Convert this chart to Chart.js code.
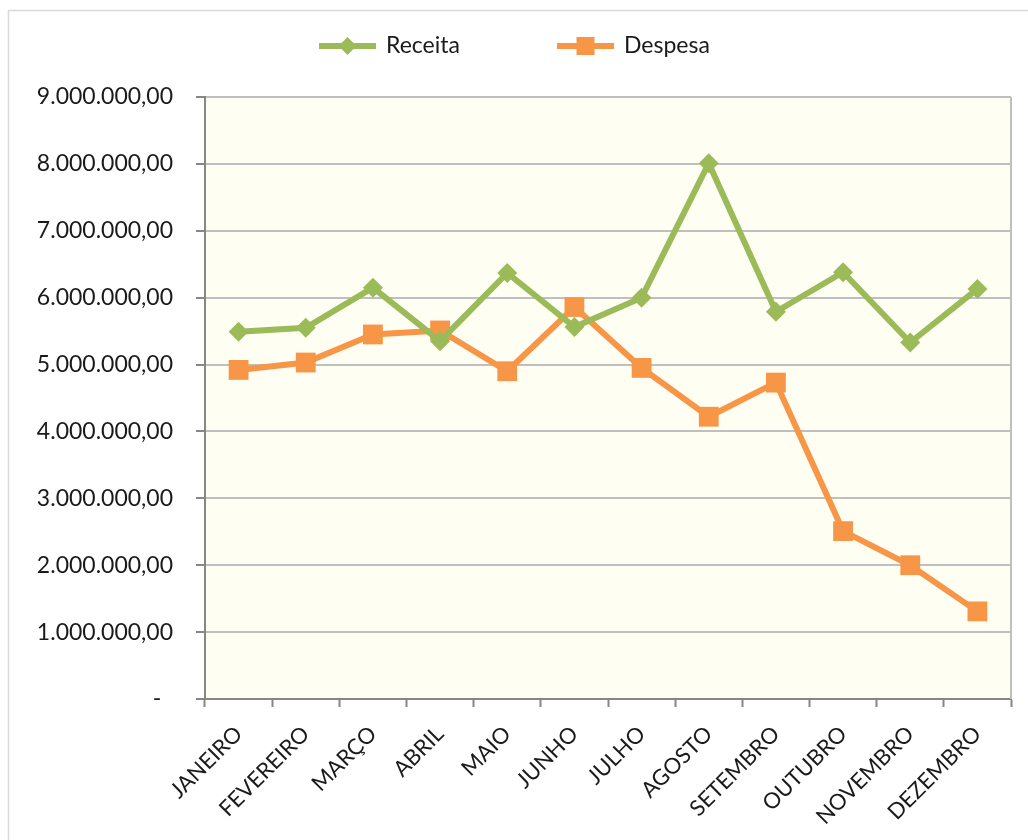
<!DOCTYPE html>
<html>
<head>
<meta charset="utf-8">
<script src="https://cdn.jsdelivr.net/npm/chart.js@4.4.1/dist/chart.umd.min.js"></script>
<style>
  html, body { margin: 0; padding: 0; background: #fff; }
  #wrap { width: 1028px; height: 840px; }
</style>
</head>
<body>
<div id="wrap"><canvas id="myChart" width="1028" height="840"></canvas></div>
<script>
const months = ["JANEIRO", "FEVEREIRO", "MARÇO", "ABRIL", "MAIO", "JUNHO", "JULHO", "AGOSTO", "SETEMBRO", "OUTUBRO", "NOVEMBRO", "DEZEMBRO"];
const receita = [5490000, 5550000, 6150000, 5350000, 6370000, 5560000, 6000000, 8010000, 5790000, 6380000, 5330000, 6130000];
const despesa = [4920000, 5030000, 5450000, 5510000, 4900000, 5860000, 4950000, 4220000, 4730000, 2510000, 2000000, 1310000];

const GREEN = "#9BBB59";
const ORANGE = "#F79646";
const FONT = "Lato";

// 9000000 -> "9.000.000,00"
function formatBR(v) {
  if (v === 0) return "-  ";
  const s = String(Math.round(v));
  return s.replace(/\B(?=(\d{3})+(?!\d))/g, ".") + ",00";
}

const framePlugin = {
  id: "frame",
  beforeDraw(chart) {
    const { ctx, chartArea } = chart;
    ctx.save();
    ctx.strokeStyle = "#D9D9D9";
    ctx.lineWidth = 1.5;
    ctx.strokeRect(8.5, 10.5, 1040, 860);
    ctx.fillStyle = "#FFFEF3";
    ctx.fillRect(chartArea.left, chartArea.top, chartArea.right - chartArea.left, chartArea.bottom - chartArea.top);
    ctx.restore();
  },
  beforeDatasetsDraw(chart) {
    const { ctx, chartArea } = chart;
    ctx.save();
    ctx.strokeStyle = "#BFBFBF";
    ctx.lineWidth = 2;
    ctx.beginPath();
    ctx.moveTo(chartArea.right, chartArea.top);
    ctx.lineTo(chartArea.right, chartArea.bottom);
    ctx.stroke();
    ctx.restore();
  },
  afterDraw(chart) {
    // legend drawn Excel-style: line with marker in the middle
    const { ctx } = chart;
    const items = [
      { x1: 319, x2: 376, tx: 386 },
      { x1: 557, x2: 614, tx: 624 },
    ];
    const y = 46;
    ctx.save();
    chart.data.datasets.forEach((ds, i) => {
      const it = items[i];
      ctx.strokeStyle = ds.borderColor;
      ctx.lineWidth = 6;
      ctx.beginPath();
      ctx.moveTo(it.x1, y);
      ctx.lineTo(it.x2, y);
      ctx.stroke();
      const cx = (it.x1 + it.x2) / 2;
      ctx.fillStyle = ds.pointBackgroundColor;
      ctx.beginPath();
      if (ds.pointStyle === "rectRot") {
        ctx.moveTo(cx, y - 9);
        ctx.lineTo(cx + 9, y);
        ctx.lineTo(cx, y + 9);
        ctx.lineTo(cx - 9, y);
        ctx.closePath();
      } else {
        ctx.rect(cx - 9, y - 9, 18, 18);
      }
      ctx.fill();
      ctx.fillStyle = "#1a1a1a";
      ctx.font = "23px " + FONT;
      ctx.textBaseline = "middle";
      ctx.textAlign = "left";
      ctx.fillText(ds.label, it.tx, y);
    });
    ctx.restore();
  },
};

new Chart(document.getElementById("myChart"), {
  type: "line",
  data: {
    labels: months,
    datasets: [
      {
        label: "Receita",
        data: receita,
        borderColor: GREEN,
        backgroundColor: GREEN,
        pointBackgroundColor: GREEN,
        pointBorderColor: GREEN,
        borderWidth: 6,
        pointStyle: "rectRot",
        pointRadius: 10,
        pointBorderWidth: 0,
        tension: 0,
      },
      {
        label: "Despesa",
        data: despesa,
        borderColor: ORANGE,
        backgroundColor: ORANGE,
        pointBackgroundColor: ORANGE,
        pointBorderColor: ORANGE,
        borderWidth: 6,
        pointStyle: "rect",
        pointRadius: 14,
        pointBorderWidth: 0,
        tension: 0,
      },
    ],
  },
  options: {
    responsive: false,
    animation: false,
    layout: { padding: { top: 97, right: 17, left: 0, bottom: 0 } },
    plugins: {
      legend: { display: false },
      tooltip: { enabled: false },
    },
    scales: {
      x: {
        offset: true,
        grid: {
          offset: true,
          drawOnChartArea: false,
          drawTicks: true,
          tickLength: 8,
          tickColor: "#868686",
          tickWidth: 2,
        },
        border: { color: "#868686", width: 2 },
        ticks: {
          color: "#1a1a1a",
          font: { family: FONT, size: 22 },
          minRotation: 45,
          maxRotation: 45,
          padding: 14,
          autoSkip: false,
        },
        afterFit(scale) {
          scale.height = 141;
        },
      },
      y: {
        min: 0,
        max: 9000000,
        grid: {
          color: "#BFBFBF",
          lineWidth: 2,
          tickLength: 9,
          tickColor: "#868686",
          tickWidth: 2,
        },
        border: { color: "#868686", width: 2 },
        ticks: {
          stepSize: 1000000,
          color: "#1a1a1a",
          font: { family: FONT, size: 23 },
          padding: 23,
          callback: (v) => formatBR(v),
        },
        afterFit(scale) {
          scale.width = 205;
        },
      },
    },
  },
  plugins: [framePlugin],
});
</script>
</body>
</html>
